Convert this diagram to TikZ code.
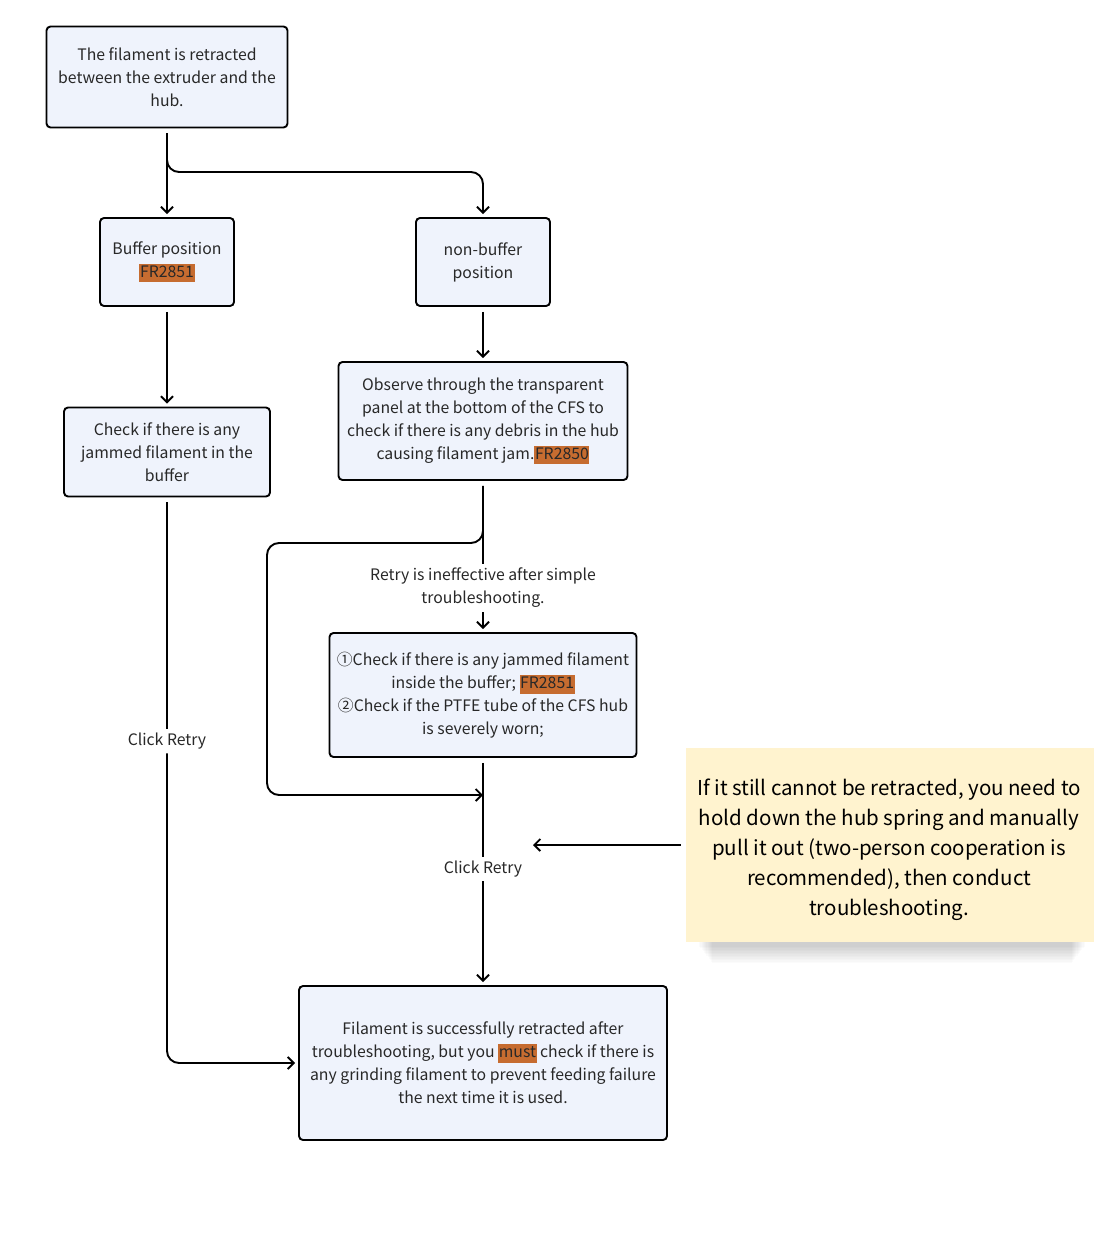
\documentclass[tikz,border=0pt]{standalone}
\usepackage{fontspec}
\setmainfont{Noto Sans CJK SC}
\usetikzlibrary{arrows.meta}
\definecolor{boxfill}{RGB}{239,243,252}
\definecolor{hlc}{RGB}{198,108,48}
\definecolor{notefill}{RGB}{255,243,207}
\definecolor{txt}{RGB}{40,40,40}
\newcommand{\hlt}[1]{\begingroup\setlength{\fboxsep}{0.6pt}\colorbox{hlc}{\rule[-4.6pt]{0pt}{17.6pt}#1}\endgroup}
\begin{document}
\begin{tikzpicture}[x=1pt,y=-1pt,
  box/.style={draw=black,line width=1.9pt,rounded corners=4pt,fill=boxfill,
    align=center,inner sep=0pt,text=txt,font=\fontsize{15.8}{23}\selectfont},
  lbl/.style={align=center,text=txt,inner sep=4pt,font=\fontsize{15.8}{23}\selectfont},
  line/.style={draw=black,line width=1.9pt,shorten <=5pt},
  tip/.style={-{Straight Barb[length=6pt,width=12pt]}},
  conn/.style={line,tip,shorten >=3pt},
  notebox/.style={fill=notefill,inner sep=0pt},
  notetext/.style={align=center,inner sep=0pt,text=black,font=\fontsize{20.5}{30}\selectfont}]
\useasboundingbox (0,0) rectangle (1110,1247);
\fill[white] (0,0) rectangle (1110,1247);

% shadow of the note
\foreach \i in {1,...,12}{
  \fill[black,opacity=0.016] (698+1.2*\i,775) rectangle (1086-1.2*\i,945+1.5*\i);
}

\node[box,minimum width=241,minimum height=101] (b1) at (167,77)
  {The filament is retracted\\between the extruder and the\\hub.};
\node[box,minimum width=134,minimum height=88] (b2) at (167,262)
  {Buffer position\\\hlt{FR2851}};
\node[box,minimum width=134,minimum height=88] (b3) at (483,262)
  {non-buffer\\position};
\node[box,minimum width=206,minimum height=89] (b4) at (167,452)
  {Check if there is any\\jammed filament in the\\buffer};
\node[box,minimum width=289,minimum height=118] (b5) at (483,421)
  {Observe through the transparent\\panel at the bottom of the CFS to\\check if there is any debris in the hub\\causing filament jam.\hlt{FR2850}};
\node[lbl] (l1) at (483,588) {Retry is ineffective after simple\\troubleshooting.};
\node[box,minimum width=307,minimum height=124] (b6) at (483,695)
  {①Check if there is any jammed filament\\inside the buffer; \hlt{FR2851}\\②Check if the PTFE tube of the CFS hub\\is severely worn;};
\node[lbl] (l2) at (167,741) {Click Retry};
\node[lbl] (l3) at (483,869) {Click Retry};
\node[box,minimum width=368,minimum height=154] (b7) at (483,1063)
  {Filament is successfully retracted after\\troubleshooting, but you \hlt{must} check if there is\\any grinding filament to prevent feeding failure\\the next time it is used.};
\node[notebox,minimum width=408,minimum height=194] (note) at (890,845) {};
\node[notetext] (nt) at (889,850)
  {If it still cannot be retracted, you need to\\hold down the hub spring and manually\\pull it out (two-person cooperation is\\recommended), then conduct\\troubleshooting.};

\coordinate (top) at (0,172);
\coordinate (mid) at (0,543);
\coordinate (lp) at (267,543);
\coordinate (j1) at (483,795);
\coordinate (j2) at (530,845);

\draw[conn] (b1.south) -- (b2.north);
\draw[conn,rounded corners=12pt] (b1.south) -- (b1.south |- top) -- (b3.north |- top) -- (b3.north);
\draw[conn] (b2.south) -- (b4.north);
\draw[conn] (b3.south) -- (b5.north);
\draw[line,shorten >=0pt] (b5.south) -- (l1.north);
\draw[conn,shorten <=0pt] (l1.south) -- (b6.north);
\draw[line,tip,rounded corners=12pt] (b5.south) -- (b5.south |- mid) -- (lp) -- (lp |- j1) -- (j1);
\draw[line,shorten >=0pt] (b6.south) -- (l3.north);
\draw[conn,shorten <=0pt] (l3.south) -- (b7.north);
\draw[line,shorten >=0pt] (b4.south) -- (l2.north);
\draw[conn,shorten <=0pt,rounded corners=12pt] (l2.south) |- (b7.west);
\draw[conn] (note.west) -- (j2);
\end{tikzpicture}
\end{document}
